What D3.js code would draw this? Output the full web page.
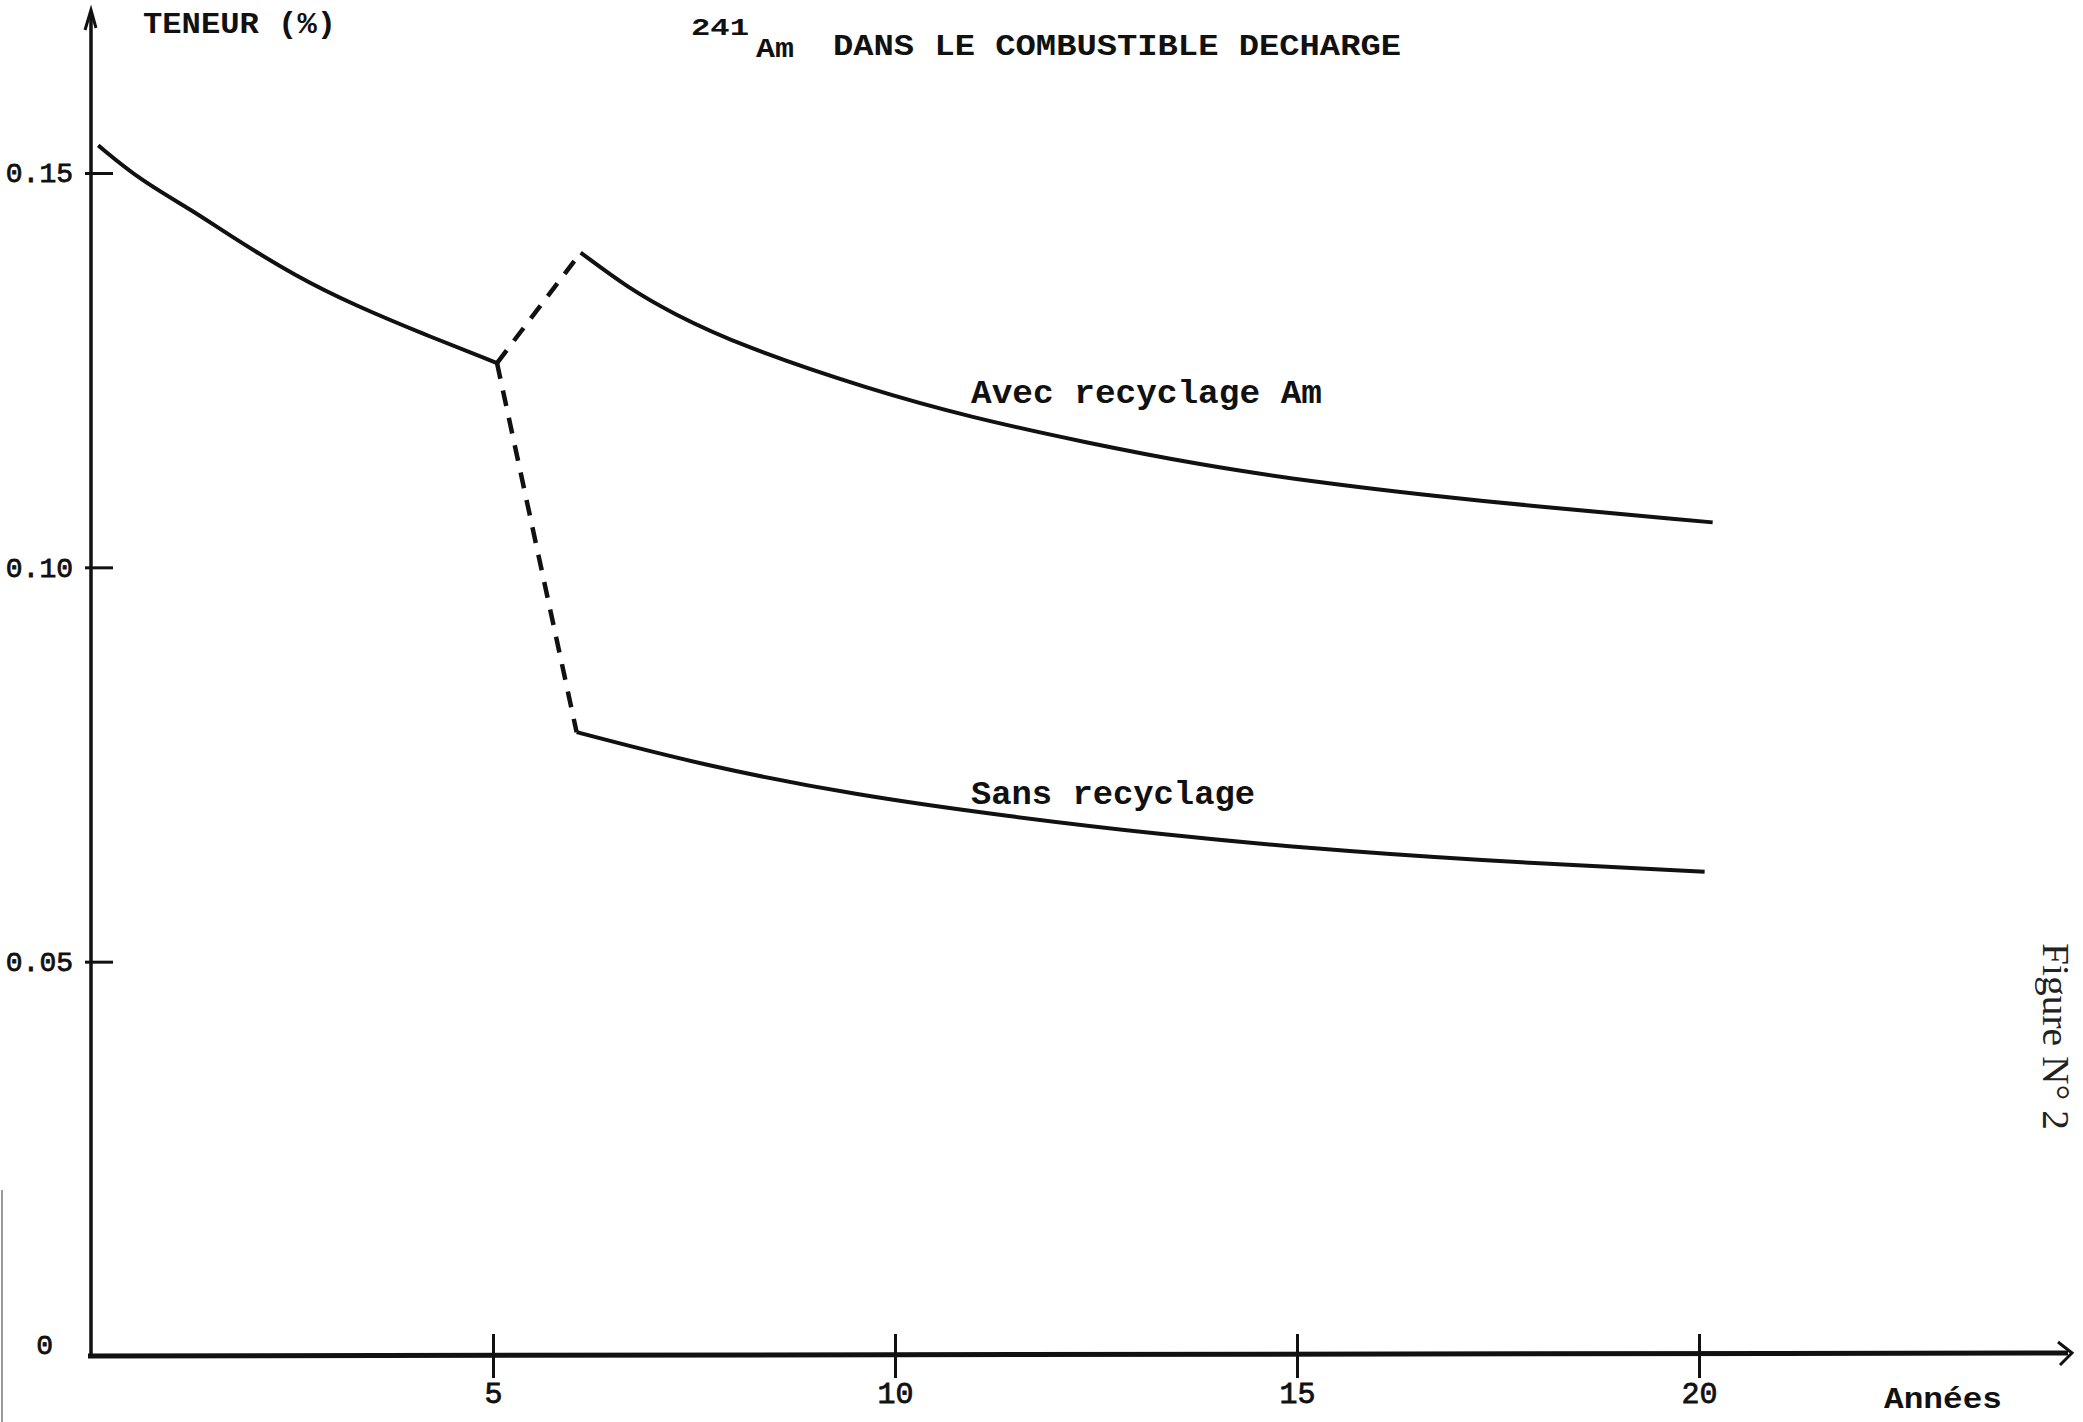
<!DOCTYPE html>
<html>
<head>
<meta charset="utf-8">
<script src="https://cdn.jsdelivr.net/npm/d3@7"></script>
<style>
  body { margin: 0; background: #fff; }
  svg { display: block; }
  .mono { font-family: "Liberation Mono", "DejaVu Sans Mono", monospace; font-weight: bold; fill: #111; }
</style>
</head>
<body>
<svg id="chart"></svg>
<script>
// Teneur en 241Am dans le combustible décharge

// partie commune, annees 0 -> 5
const anneesCommun = [0.09, 0.61, 1.27, 1.69, 2.56, 3.31, 4.13, 5.05];
const teneurCommun = [0.1535, 0.1491, 0.1452, 0.1423, 0.1368, 0.1331, 0.1296, 0.1259];

// avec recyclage Am
const anneesAvec = [6.09, 6.67, 7.23, 8.08, 9.70, 10.95, 12.38, 13.79, 15.22, 17.13, 20.17];
const teneurAvec = [0.1399, 0.1355, 0.1322, 0.1281, 0.1225, 0.1190, 0.1158, 0.1130, 0.1108, 0.1085, 0.1057];

// sans recyclage
const anneesSans = [6.04, 7.61, 9.51, 11.42, 13.32, 15.22, 17.13, 20.07];
const teneurSans = [0.0791, 0.0749, 0.0711, 0.0684, 0.0661, 0.0643, 0.0629, 0.0614];

const xTicks = [5, 10, 15, 20];
const yTicks = [0, 0.05, 0.10, 0.15];
const yTickLabels = ["0", "0.05", "0.10", "0.15"];

const svgWidth = 2083;
const svgHeight = 1422;

const svg = d3.select("#chart")
  .attr("width", svgWidth)
  .attr("height", svgHeight);

svg.append("rect").attr("width", svgWidth).attr("height", svgHeight).attr("fill", "#fff");

// scales
const xScale = d3.scaleLinear().domain([0, 20]).range([91, 1699]);
const yScale = d3.scaleLinear().domain([0, 0.15]).range([1356, 173]);

const x0 = xScale(0);
const yBase = yScale(0);

// axes lines with arrows
svg.append("line")
  .attr("x1", x0).attr("y1", 14).attr("x2", x0).attr("y2", yBase + 2)
  .attr("stroke", "#111").attr("stroke-width", 3.5);
svg.append("path")
  .attr("d", `M${x0 - 6},${30} L${x0},${10} L${x0 + 5},${28}`)
  .attr("fill", "none").attr("stroke", "#111").attr("stroke-width", 3);

svg.append("line")
  .attr("x1", x0 - 3).attr("y1", yBase).attr("x2", 2068).attr("y2", yBase - 3)
  .attr("stroke", "#111").attr("stroke-width", 5);
svg.append("path")
  .attr("d", `M2058,${yBase - 14} L2072,${yBase - 3} L2060,${yBase + 9}`)
  .attr("fill", "none").attr("stroke", "#111").attr("stroke-width", 3);

// y axis ticks
const yAxis = d3.axisLeft(yScale)
  .tickValues(yTicks)
  .tickSize(-22)
  .tickPadding(18)
  .tickFormat((d, i) => yTickLabels[i]);

const gy = svg.append("g").attr("transform", `translate(${x0},0)`).call(yAxis);
gy.select(".domain").remove();
gy.selectAll(".tick line").attr("x1", -6).attr("stroke", "#111").attr("stroke-width", 3);
gy.selectAll(".tick text")
  .attr("class", "mono")
  .style("font-size", "28px")
  .style("font-weight", "normal")
  .style("stroke", "#111").style("stroke-width", 0.8);
gy.selectAll(".tick").filter(d => d === 0).select("line").remove();
gy.selectAll(".tick").filter(d => d === 0).select("text")
  .attr("x", -38).attr("dy", "-0.1em");

// x axis ticks
const xAxis = d3.axisBottom(xScale)
  .tickValues(xTicks)
  .tickSize(22)
  .tickPadding(4)
  .tickFormat(d3.format("d"));

const gx = svg.append("g").attr("transform", `translate(0,${yBase})`).call(xAxis);
gx.select(".domain").remove();
gx.selectAll(".tick line").attr("y1", -22).attr("stroke", "#111").attr("stroke-width", 3);
gx.selectAll(".tick text")
  .attr("class", "mono")
  .style("font-size", "30px")
  .style("font-weight", "normal")
  .style("stroke", "#111").style("stroke-width", 0.8);

// curves
const toPts = (xs, ys) => xs.map((d, i) => [d, ys[i]]);
const line = d3.line()
  .x(d => xScale(d[0]))
  .y(d => yScale(d[1]))
  .curve(d3.curveBasis);
const straight = d3.line()
  .x(d => xScale(d[0]))
  .y(d => yScale(d[1]));

const commun = toPts(anneesCommun, teneurCommun);
const avec = toPts(anneesAvec, teneurAvec);
const sans = toPts(anneesSans, teneurSans);
const junction = commun[commun.length - 1];

[commun, avec, sans].forEach(pts => {
  svg.append("path")
    .datum(pts)
    .attr("d", line)
    .attr("fill", "none")
    .attr("stroke", "#111")
    .attr("stroke-width", 4)
    .attr("stroke-linejoin", "round");
});

[[junction, avec[0]], [junction, sans[0]]].forEach(pts => {
  svg.append("path")
    .datum(pts)
    .attr("d", straight)
    .attr("fill", "none")
    .attr("stroke", "#111")
    .attr("stroke-width", 4.5)
    .attr("stroke-dasharray", "16,12");
});

// texts
function label(txt, x, y, size, len) {
  const t = svg.append("text")
    .attr("class", "mono")
    .attr("x", x).attr("y", y)
    .style("font-size", size + "px")
    .text(txt);
  if (len) t.attr("textLength", len).attr("lengthAdjust", "spacingAndGlyphs");
  return t;
}

label("TENEUR (%)", 143, 33, 30, 193);
label("241", 691, 35, 24, 58);
label("Am", 756, 57, 28, 38);
label("DANS LE COMBUSTIBLE DECHARGE", 833, 55, 30, 568);
label("Avec recyclage Am", 971, 403, 33, 351);
label("Sans recyclage", 971, 804, 33, 284);
label("Années", 1884, 1408, 30, 118);

svg.append("text")
  .attr("transform", "translate(2043,943) rotate(90)")
  .style("font-family", "'Liberation Serif', 'DejaVu Serif', serif")
  .style("font-size", "38px")
  .style("fill", "#222")
  .attr("textLength", 187)
  .attr("lengthAdjust", "spacingAndGlyphs")
  .text("Figure N° 2");

// bord du scan
svg.append("line")
  .attr("x1", 2).attr("y1", 1190).attr("x2", 2).attr("y2", svgHeight)
  .attr("stroke", "#999").attr("stroke-width", 2);
</script>
</body>
</html>
